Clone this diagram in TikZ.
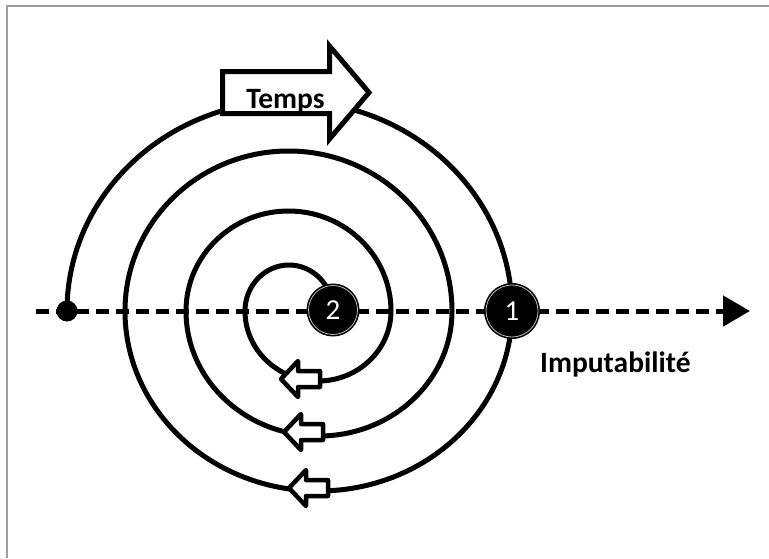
\documentclass[tikz,border=0pt]{standalone}
\usepackage{fontspec}
\setmainfont{Carlito}
\usetikzlibrary{arrows.meta}
\tikzset{
  pics/backarrow/.style={code={
    \path[smallarr] (3,0) -- (20,-18) -- (20,-8) -- (42,-8) -- (42,8) -- (20,8) -- (20,18) -- cycle;
  }}
}
\begin{document}
\begin{tikzpicture}[x=1pt,y=-1pt,
  spiral/.style={line width=5pt, line cap=round},
  axisline/.style={line width=5pt, dash pattern=on 13pt off 7pt},
  smallarr/.style={draw, fill=white, line width=4.5pt, line join=round},
  bigarr/.style={draw, fill=white, line width=5pt, line join=miter},
  bignode/.style={circle, fill=black, inner sep=0pt, text=white, font=\fontsize{29}{32}\selectfont},
  ring/.style={draw=gray!55, line width=0.8pt},
  lbl/.style={font=\bfseries\fontsize{29.5}{34}\selectfont, inner sep=0pt},
  frame/.style={draw=gray!75, line width=2.5pt}
]
\useasboundingbox (0,0) rectangle (769,558);
\draw[frame] (7,558) -- (7,6) -- (769,6);

% axis
\coordinate (axs) at (36,311);
\coordinate (axe) at (750,311);
\draw[axisline, -{Triangle[length=27pt,width=30pt]}] (axs) -- (axe);

% start dot
\node[circle, fill=black, minimum size=21pt, inner sep=0pt] (st) at (67,311) {};

% spiral
\draw[spiral] (st.center)
  arc[start angle=180, end angle=360, x radius=222.5, y radius=210]
  arc[start angle=0, end angle=180, x radius=193.5, y radius=180]
  arc[start angle=180, end angle=360, x radius=163.5, y radius=160]
  arc[start angle=0, end angle=180, x radius=133, y radius=125]
  arc[start angle=180, end angle=360, x radius=102.5, y radius=100]
  arc[start angle=0, end angle=180, x radius=73, y radius=70]
  arc[start angle=180, end angle=360, x radius=44, y radius=46];

% small arrows on the spiral
\pic at (278,379) {backarrow};
\pic at (281,432) {backarrow};
\pic at (286,488) {backarrow};

% numbered nodes
\node[bignode, minimum size=56pt] (n1) at (512,311) {1};
\draw[ring] (n1.center) circle (26);
\node[bignode, minimum size=53pt] (n2) at (333,310) {2};
\draw[ring] (n2.center) circle (24.5);

% Temps arrow
\draw[bigarr] (222.5,71.5) -- (329.5,71.5) -- (329.5,46) -- (369,92.5)
  -- (329.5,139) -- (329.5,113.5) -- (222.5,113.5) -- cycle;
\node[lbl, anchor=base] (temps) at (285.5,108) {Temps};

\node[lbl, anchor=base west] (imp) at (540,372) {Imputabilité};
\end{tikzpicture}
\end{document}
